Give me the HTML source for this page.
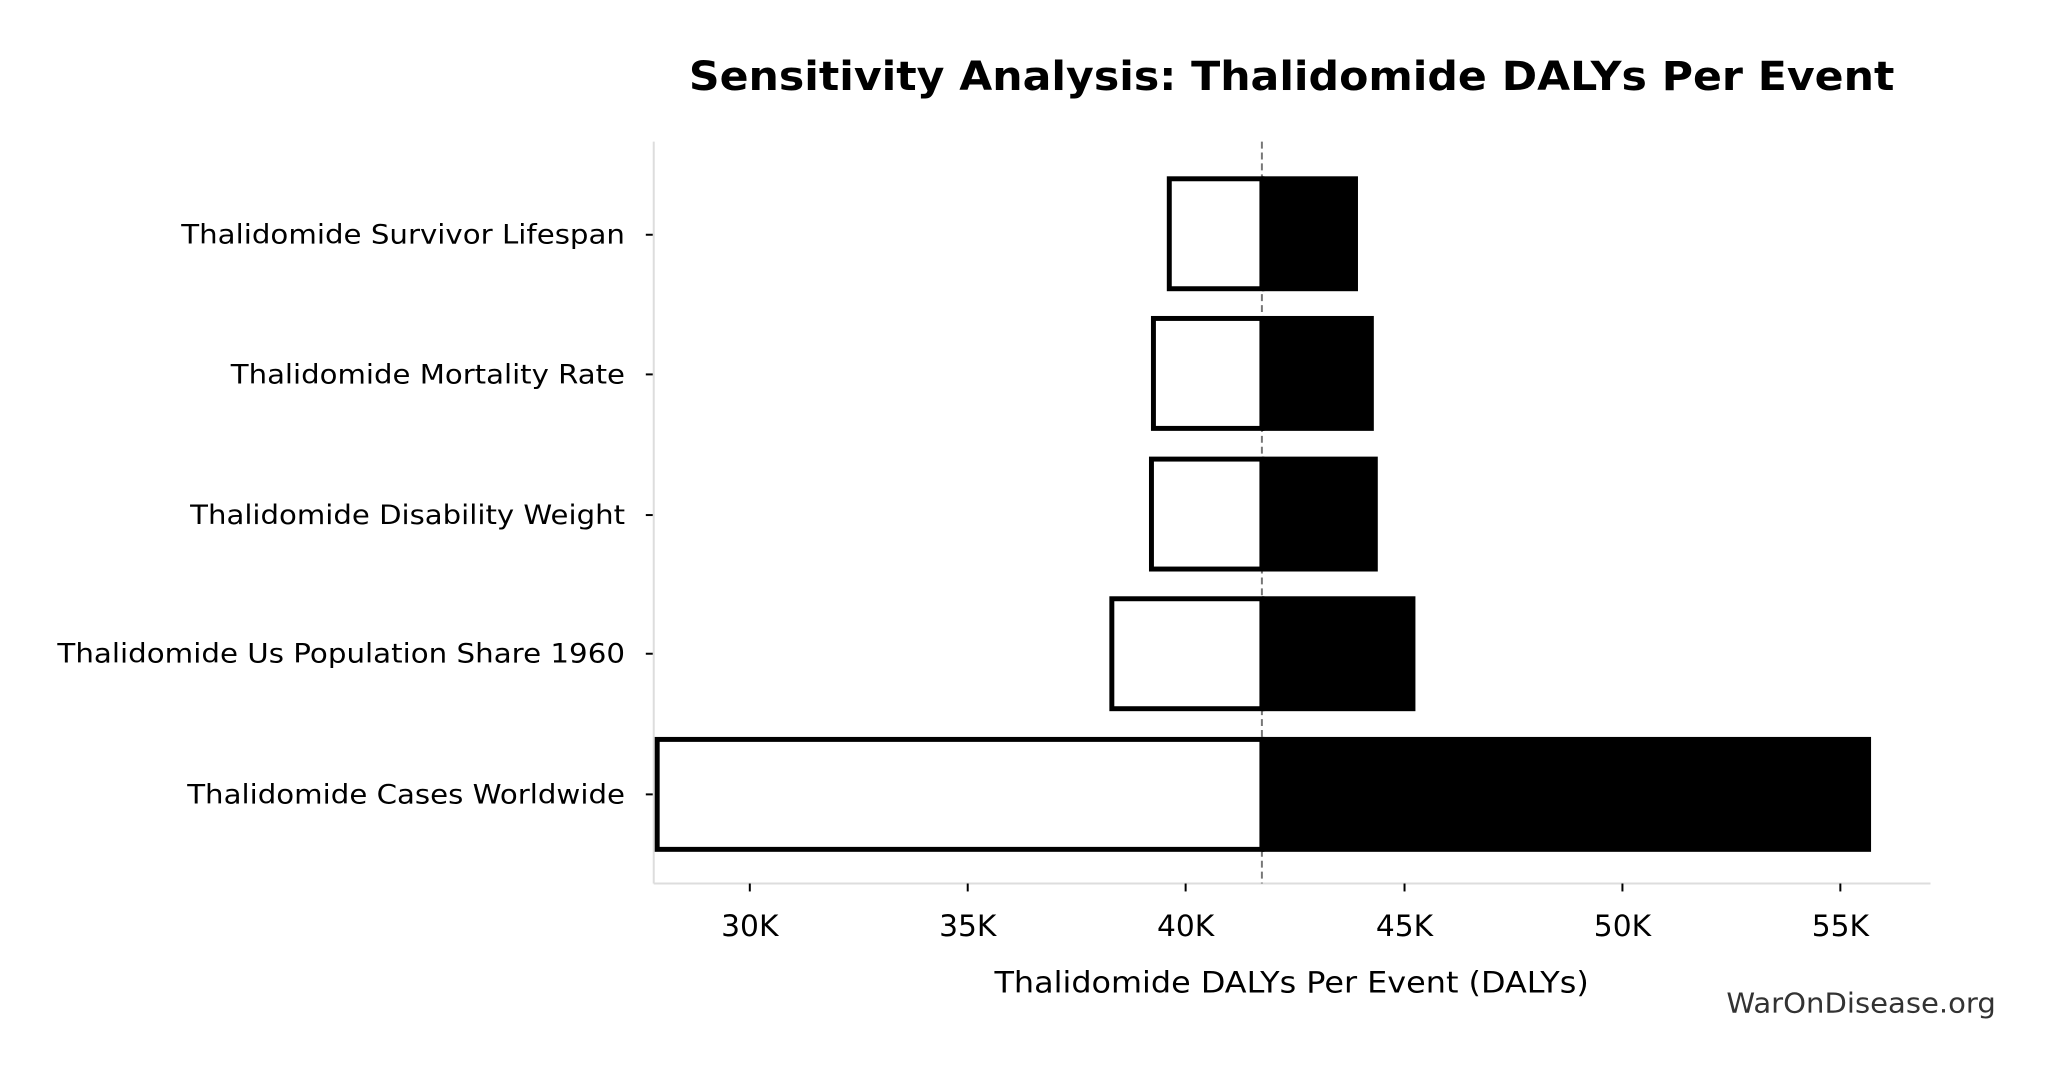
<!DOCTYPE html>
<html><head><meta charset="utf-8"><style>html,body{margin:0;padding:0;background:#fff}svg{display:block}</style></head>
<body>
<svg width="2053" height="1075" viewBox="0 0 2053 1075" xmlns="http://www.w3.org/2000/svg" font-family="DejaVu Sans, Liberation Sans, sans-serif">
<rect width="2053" height="1075" fill="#fff"/>
<g transform="scale(0.9905)">
<text x="1304" y="91" font-size="40" font-weight="bold" text-anchor="middle" textLength="1217" lengthAdjust="spacingAndGlyphs">Sensitivity Analysis: Thalidomide DALYs Per Event</text>
<line x1="660" y1="143" x2="660" y2="892" stroke="#ddd" stroke-width="2"/>
<line x1="660" y1="892" x2="1949" y2="892" stroke="#ddd" stroke-width="2"/>
<line x1="1274" y1="143" x2="1274" y2="892" stroke="#777" stroke-width="2" stroke-dasharray="7,4"/>
<g stroke="#000" stroke-width="5">
<rect x="1180.5" y="180.5" width="93.5" height="111" fill="#fff"/><rect x="1274" y="178" width="97" height="116" fill="#000" stroke="none"/>
<rect x="1164.5" y="321.5" width="109.5" height="111" fill="#fff"/><rect x="1274" y="319" width="113" height="116" fill="#000" stroke="none"/>
<rect x="1162.5" y="463.5" width="111.5" height="111" fill="#fff"/><rect x="1274" y="461" width="117" height="116" fill="#000" stroke="none"/>
<rect x="1122.5" y="604.5" width="151.5" height="111" fill="#fff"/><rect x="1274" y="602" width="155" height="116" fill="#000" stroke="none"/>
<rect x="663.5" y="746.5" width="610.5" height="111" fill="#fff"/><rect x="1274" y="744" width="615" height="116" fill="#000" stroke="none"/>
</g>
<g stroke="#000" stroke-width="2">
<line x1="652" y1="237" x2="659" y2="237"/><line x1="652" y1="378" x2="659" y2="378"/><line x1="652" y1="520" x2="659" y2="520"/><line x1="652" y1="660" x2="659" y2="660"/><line x1="652" y1="802" x2="659" y2="802"/>
<line x1="757" y1="892" x2="757" y2="900"/><line x1="977" y1="892" x2="977" y2="900"/><line x1="1197" y1="892" x2="1197" y2="900"/><line x1="1418" y1="892" x2="1418" y2="900"/><line x1="1638" y1="892" x2="1638" y2="900"/><line x1="1858" y1="892" x2="1858" y2="900"/>
</g>
<g font-size="27" text-anchor="end">
<text x="631" y="246" textLength="448" lengthAdjust="spacingAndGlyphs">Thalidomide Survivor Lifespan</text>
<text x="631" y="387" textLength="398" lengthAdjust="spacingAndGlyphs">Thalidomide Mortality Rate</text>
<text x="631" y="529" textLength="439" lengthAdjust="spacingAndGlyphs">Thalidomide Disability Weight</text>
<text x="631" y="669" textLength="573" lengthAdjust="spacingAndGlyphs">Thalidomide Us Population Share 1960</text>
<text x="631" y="811" textLength="442" lengthAdjust="spacingAndGlyphs">Thalidomide Cases Worldwide</text>
</g>
<g font-size="30" text-anchor="middle">
<text x="757" y="945">30K</text><text x="977" y="945">35K</text><text x="1197" y="945">40K</text><text x="1418" y="945">45K</text><text x="1638" y="945">50K</text><text x="1858" y="945">55K</text>
<text x="1304" y="1002" textLength="600" lengthAdjust="spacingAndGlyphs">Thalidomide DALYs Per Event (DALYs)</text>
</g>
<text x="1879" y="1022" font-size="28" fill="#333" text-anchor="middle" textLength="272" lengthAdjust="spacingAndGlyphs">WarOnDisease.org</text>
</g>
</svg>
</body></html>
